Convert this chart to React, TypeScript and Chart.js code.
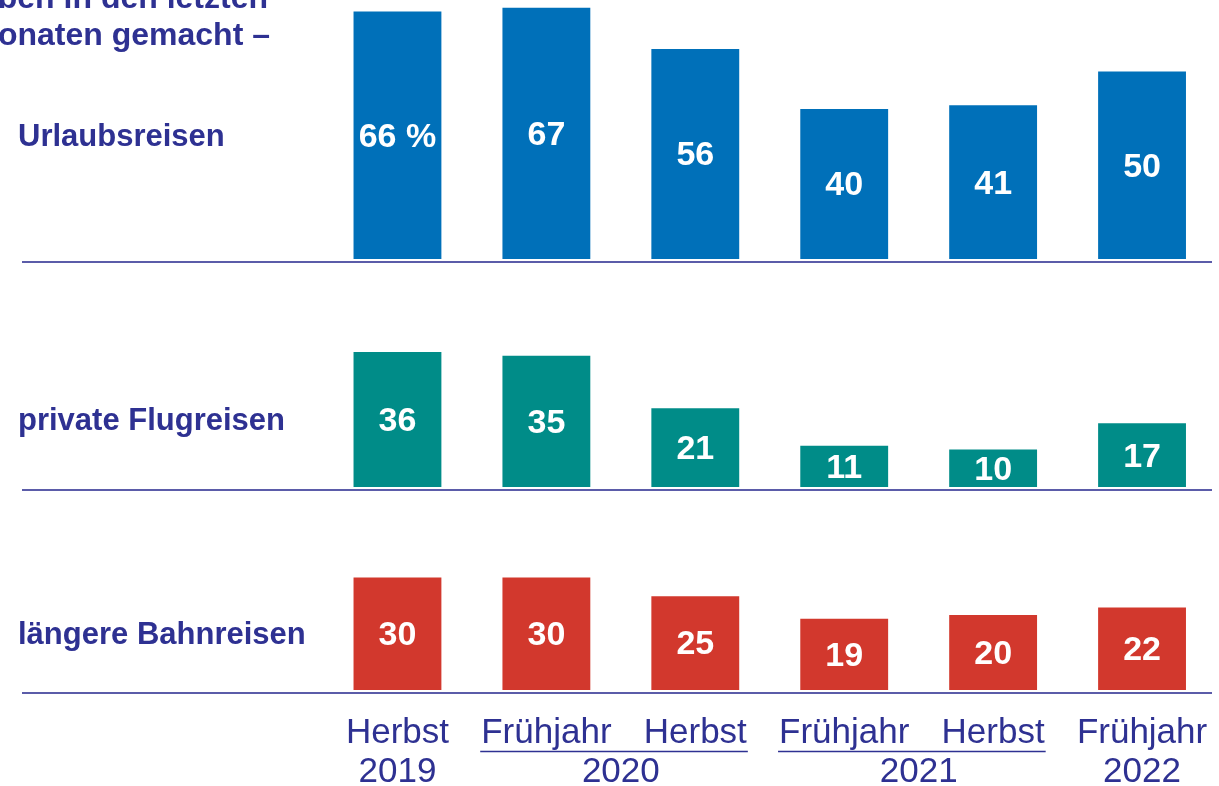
import { useEffect, useRef } from "react";
import { Chart, registerables } from "chart.js";

Chart.register(...registerables);

// ---- data ----
const seasons = ["Herbst", "Frühjahr", "Herbst", "Frühjahr", "Herbst", "Frühjahr"];
const years = ["2019", "2020", "2020", "2021", "2021", "2022"];
const urlaubsreisen = [66, 67, 56, 40, 41, 50];
const flugreisen = [36, 35, 21, 11, 10, 17];
const bahnreisen = [30, 30, 25, 19, 20, 22];
const rowLabels = ["Urlaubsreisen", "private Flugreisen", "längere Bahnreisen"];
const titleLines = ["ben in den letzten", "onaten gemacht –"];
const firstValueSuffix = " %";

const TEXT = "#2e3192";
const LINE = "#5b5ca9";
const COLORS = ["#0070b9", "#008c88", "#d2382d"];
const FONT = "'Liberation Sans', Arial, sans-serif";

const panelPlugin = {
  id: "panelPlugin",
  afterDraw(chart: any) {
    const ctx = chart.ctx as CanvasRenderingContext2D;
    const xs = chart.scales.x;
    const yIds = ["yU", "yF", "yB"];
    ctx.save();

    // title fragments
    ctx.fillStyle = TEXT;
    ctx.font = `bold 32px ${FONT}`;
    ctx.textAlign = "right";
    ctx.textBaseline = "alphabetic";
    ctx.fillText(titleLines[0], 268, 8);
    ctx.fillText(titleLines[1], 270, 45);

    // baselines + row labels
    yIds.forEach((id, i) => {
      const ys = chart.scales[id];
      ctx.strokeStyle = LINE;
      ctx.lineWidth = 2;
      ctx.beginPath();
      ctx.moveTo(22, ys.bottom);
      ctx.lineTo(1212, ys.bottom);
      ctx.stroke();

      const ds = chart.data.datasets[i].data as number[];
      ctx.fillStyle = TEXT;
      ctx.font = `bold 31px ${FONT}`;
      ctx.textAlign = "left";
      ctx.textBaseline = "middle";
      ctx.fillText(rowLabels[i], 18, ys.getPixelForValue(ds[0] / 2) + 2);
    });

    // value labels inside bars
    chart.data.datasets.forEach((ds: any, di: number) => {
      const meta = chart.getDatasetMeta(di);
      meta.data.forEach((bar: any, j: number) => {
        const v = ds.data[j];
        const txt = di === 0 && j === 0 ? `${v}${firstValueSuffix}` : `${v}`;
        ctx.fillStyle = "#ffffff";
        ctx.font = `bold 34px ${FONT}`;
        ctx.textAlign = "center";
        ctx.textBaseline = "middle";
        ctx.fillText(txt, bar.x, (bar.y + bar.base) / 2 + 2);
      });
    });

    // year labels with group underlines
    ctx.font = `35px ${FONT}`;
    let start = 0;
    for (let i = 1; i <= years.length; i++) {
      if (i === years.length || years[i] !== years[start]) {
        const end = i - 1;
        const x0 = xs.getPixelForValue(start);
        const x1 = xs.getPixelForValue(end);
        ctx.fillStyle = TEXT;
        ctx.textAlign = "center";
        ctx.textBaseline = "alphabetic";
        ctx.fillText(years[start], (x0 + x1) / 2, 782);
        if (end > start) {
          const l = x0 - ctx.measureText(seasons[start]).width / 2 - 1;
          const r = x1 + ctx.measureText(seasons[end]).width / 2 + 1;
          ctx.strokeStyle = TEXT;
          ctx.lineWidth = 1.5;
          ctx.beginPath();
          ctx.moveTo(l, 751.5);
          ctx.lineTo(r, 751.5);
          ctx.stroke();
        }
        start = i;
      }
    }
    ctx.restore();
  },
};

export default function App() {
  const ref = useRef<HTMLCanvasElement | null>(null);

  useEffect(() => {
    if (!ref.current) return;
    const chart = new Chart(ref.current, {
      type: "bar",
      data: {
        labels: seasons,
        datasets: [
          { data: urlaubsreisen, yAxisID: "yU", backgroundColor: COLORS[0] },
          { data: flugreisen, yAxisID: "yF", backgroundColor: COLORS[1] },
          { data: bahnreisen, yAxisID: "yB", backgroundColor: COLORS[2] },
        ].map((d) => ({
          ...d,
          grouped: false,
          barPercentage: 0.59,
          categoryPercentage: 1,
          borderWidth: 0,
        })),
      },
      options: {
        responsive: false,
        animation: false,
        events: [],
        layout: { padding: { left: 323, right: 2.5, top: 0, bottom: 0 } },
        plugins: { legend: { display: false }, tooltip: { enabled: false } },
        scales: {
          x: {
            grid: { display: false, drawTicks: false },
            border: { display: false },
            ticks: {
              color: TEXT,
              font: { family: FONT, size: 35, lineHeight: 1.2 },
              padding: 19,
              maxRotation: 0,
              minRotation: 0,
              autoSkip: false,
            },
            afterFit(scale: any) {
              scale.paddingLeft = 0;
              scale.paddingRight = 0;
              scale.height = 93;
            },
          },
          yU: { display: false, position: "left", min: -0.8, max: 69.07, stack: "panels", stackWeight: 262, weight: 3 },
          yF: { display: false, position: "left", min: -0.8, max: 60, stack: "panels", stackWeight: 228, weight: 2 },
          yB: { display: false, position: "left", min: -0.8, max: 53.33, stack: "panels", stackWeight: 203, weight: 1 },
        } as any,
      },
      plugins: [panelPlugin],
    });
    return () => chart.destroy();
  }, []);

  return (
    <div style={{ position: "absolute", left: 0, top: 0, width: 1219, height: 786, background: "#fff" }}>
      <canvas ref={ref} width={1219} height={786} style={{ display: "block" }} />
    </div>
  );
}
